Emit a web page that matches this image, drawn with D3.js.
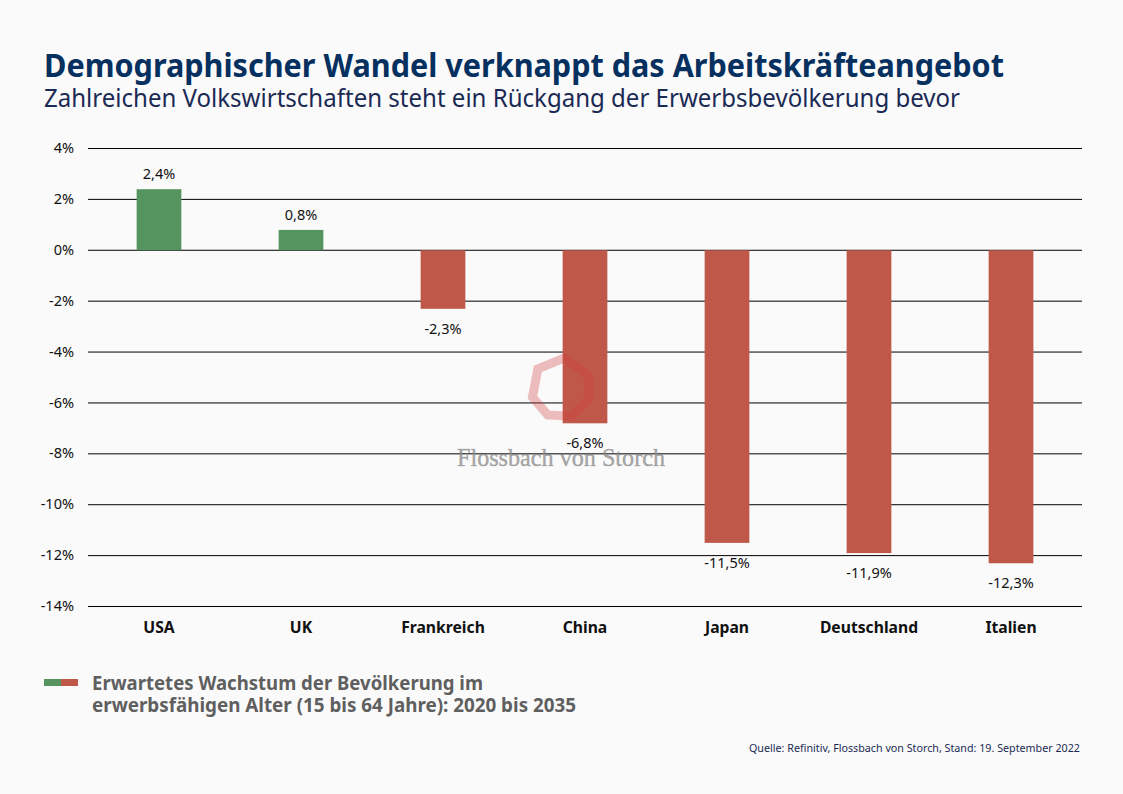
<!DOCTYPE html>
<html><head><meta charset="utf-8">
<script src="https://cdn.jsdelivr.net/npm/d3@7"></script>
<style>
html,body{margin:0;padding:0;background:#fafafa}
svg{display:block}
text{font-family:"Noto Sans",sans-serif}
</style></head><body>
<svg id="c" width="1123" height="794"></svg>
<script>
const categories=["USA","UK","Frankreich","China","Japan","Deutschland","Italien"];
const values=[2.4,0.8,-2.3,-6.8,-11.5,-11.9,-12.3];
const valueLabels=["2,4%","0,8%","-2,3%","-6,8%","-11,5%","-11,9%","-12,3%"];
const tickValues=[4,2,0,-2,-4,-6,-8,-10,-12,-14];
const titleText="Demographischer Wandel verknappt das Arbeitskräfteangebot";
const subtitleText="Zahlreichen Volkswirtschaften steht ein Rückgang der Erwerbsbevölkerung bevor";
const legendLines=["Erwartetes Wachstum der Bevölkerung im","erwerbsfähigen Alter (15 bis 64 Jahre): 2020 bis 2035"];
const sourceText="Quelle: Refinitiv, Flossbach von Storch, Stand: 19. September 2022";
const watermarkText="Flossbach von Storch";
const green="#55945f",red="#bf5848",navy="#06305f",subNavy="#1b2a55",grey="#5f5f5f";

const svg=d3.select("#c");
const y=d3.scaleLinear().domain([4,-14]).range([148,606]);
const x=d3.scaleBand().domain(categories).range([88,1082]).paddingInner(0.685).paddingOuter(0.3425);

function fit(sel,len){sel.attr("textLength",len).attr("lengthAdjust","spacingAndGlyphs");return sel;}

svg.append("rect").attr("width",1123).attr("height",794).attr("fill","#fafafa");
fit(svg.append("text").attr("x",44).attr("y",77).attr("font-size",32).attr("font-weight",700).attr("fill",navy).text(titleText),960);
fit(svg.append("text").attr("x",44).attr("y",107).attr("font-size",25).attr("fill",subNavy).text(subtitleText),916);

// gridlines and tick labels through a d3 axis
const axis=d3.axisLeft(y).tickValues(tickValues).tickFormat(d=>d+"%").tickSize(-994).tickPadding(14);
const ag=svg.append("g").attr("transform","translate(88,0)").call(axis);
ag.select(".domain").remove();
ag.selectAll(".tick line").attr("stroke","#000").attr("stroke-width",1);
ag.selectAll(".tick text").attr("font-size",14.5).attr("fill","#111").attr("font-family",'"Noto Sans",sans-serif');

// bars
svg.append("g").selectAll("rect").data(values).join("rect")
 .attr("x",(d,i)=>x(categories[i])).attr("width",x.bandwidth())
 .attr("y",d=>y(Math.max(d,0))+0.5).attr("height",d=>Math.abs(y(d)-y(0)))
 .attr("fill",d=>d>=0?green:red);

// watermark
const wm=svg.append("g");
const angles=[0.1,1.15,1.95,2.8,3.6,4.4,5.4];
const radial=d3.lineRadial().angle(d=>d).radius(30).curve(d3.curveLinearClosed);
wm.append("path").attr("transform","translate(561,388)").attr("d",radial(angles))
 .attr("fill","none").attr("stroke","#d23c3c").attr("stroke-opacity",.33).attr("stroke-width",9);
wm.append("text").attr("x",561).attr("y",466).attr("text-anchor","middle")
 .attr("font-size",26).style("font-family",'"Liberation Serif",serif').attr("fill","#8a8a8a").attr("fill-opacity",.75)
 .attr("stroke","#8a8a8a").attr("stroke-opacity",.5).attr("stroke-width",.6)
 .attr("textLength",208).attr("lengthAdjust","spacingAndGlyphs").text(watermarkText);

// value labels
svg.append("g").selectAll("text").data(values).join("text")
 .attr("x",(d,i)=>x(categories[i])+x.bandwidth()/2)
 .attr("y",d=>d>=0?y(d)-9.5:y(d)+25.5)
 .attr("text-anchor","middle").attr("font-size",14.5).attr("fill","#111")
 .text((d,i)=>valueLabels[i]);

// categories
svg.append("g").selectAll("text").data(categories).join("text")
 .attr("x",d=>x(d)+x.bandwidth()/2).attr("y",632.5)
 .attr("text-anchor","middle").attr("font-size",15.7).attr("font-weight",700).attr("fill","#111")
 .text(d=>d);

// legend
svg.append("rect").attr("x",44).attr("y",679).attr("width",17).attr("height",7).attr("fill",green);
svg.append("rect").attr("x",61).attr("y",679).attr("width",17).attr("height",7).attr("fill",red);
const legendLens=[391,484];
svg.append("g").selectAll("text").data(legendLines).join("text")
 .attr("x",92).attr("y",(d,i)=>690+i*22).attr("font-size",19).attr("font-weight",700).attr("fill",grey)
 .attr("textLength",(d,i)=>legendLens[i]).attr("lengthAdjust","spacingAndGlyphs").text(d=>d);

fit(svg.append("text").attr("x",749).attr("y",752).attr("font-size",11).attr("fill",subNavy).text(sourceText),331);
</script>
</body></html>
